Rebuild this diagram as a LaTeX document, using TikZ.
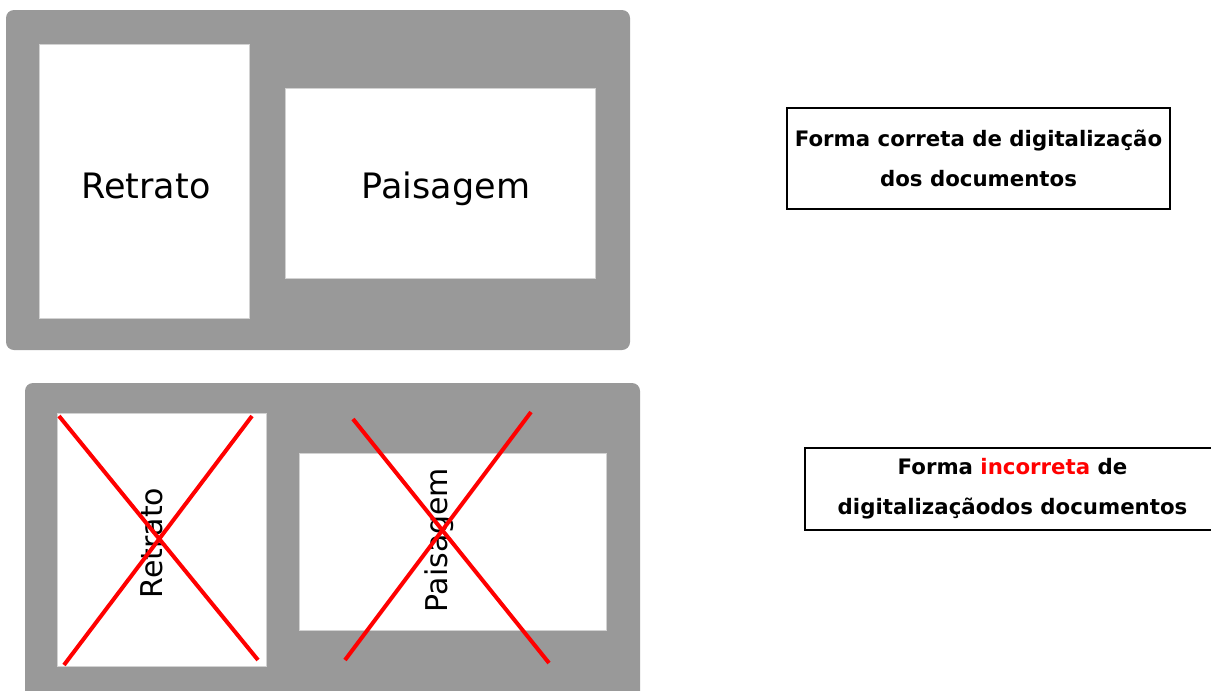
\documentclass[tikz,border=0pt]{standalone}
\usepackage{fontspec}
\setmainfont{DejaVu Sans}
\definecolor{panelgray}{HTML}{999999}

\begin{document}
\begin{tikzpicture}
  [x=1pt,y=-1pt,
   page/.style={fill=white,draw=gray!35,line width=.6pt,inner sep=0pt},
   pagetext/.style={inner sep=0pt,font=\fontsize{35}{40}\selectfont},
   turnedtext/.style={inner sep=0pt,rotate=90,font=\fontsize{30}{36}\selectfont},
   labelbox/.style={draw,line width=1.4pt,align=center,inner sep=0pt,
     font=\bfseries\fontsize{21.3}{40}\selectfont},
   cross/.style={red,line width=4pt}]
  \useasboundingbox (0,0) rectangle (1211,691);
  % correct way
  \fill[panelgray,rounded corners=8pt] (6,10) rectangle (630,350);
  \node[page,minimum width=210,minimum height=274] (ret) at (144,181) {};
  \node[page,minimum width=310,minimum height=190] (pai) at (440,183) {};
  \node[pagetext] (rett) at (146,186) {Retrato};
  \node[pagetext] (pait) at (446,189) {Paisagem};
  \node[labelbox,minimum width=383,minimum height=101] (ok) at (978.5,158.5)
    {Forma correta de digitalização\\dos documentos};
  % wrong way
  \fill[panelgray,rounded corners=8pt] (25,383) rectangle (640,700);
  \node[page,minimum width=209,minimum height=253] (wret) at (161.5,539.5) {};
  \node[page,minimum width=307,minimum height=177] (wpai) at (452.5,541.5) {};
  \node[turnedtext] (wrett) at (152,543) {Retrato};
  \node[turnedtext] (wpait) at (439,540) {Paisagem};
  \coordinate (ra) at (59,416);  \coordinate (rb) at (258,660);
  \coordinate (rc) at (252,416); \coordinate (rd) at (64,665);
  \coordinate (pa) at (353,419); \coordinate (pb) at (549,663);
  \coordinate (pc) at (531,412); \coordinate (pd) at (345,660);
  \foreach \from/\to in {ra/rb,rc/rd,pa/pb,pc/pd}
    \draw[cross] (\from) -- (\to);
  \node[labelbox,minimum width=415,minimum height=82] (bad) at (1012.5,489)
    {Forma \textcolor{red}{incorreta} de\\digitalizaçãodos documentos};
\end{tikzpicture}
\end{document}
